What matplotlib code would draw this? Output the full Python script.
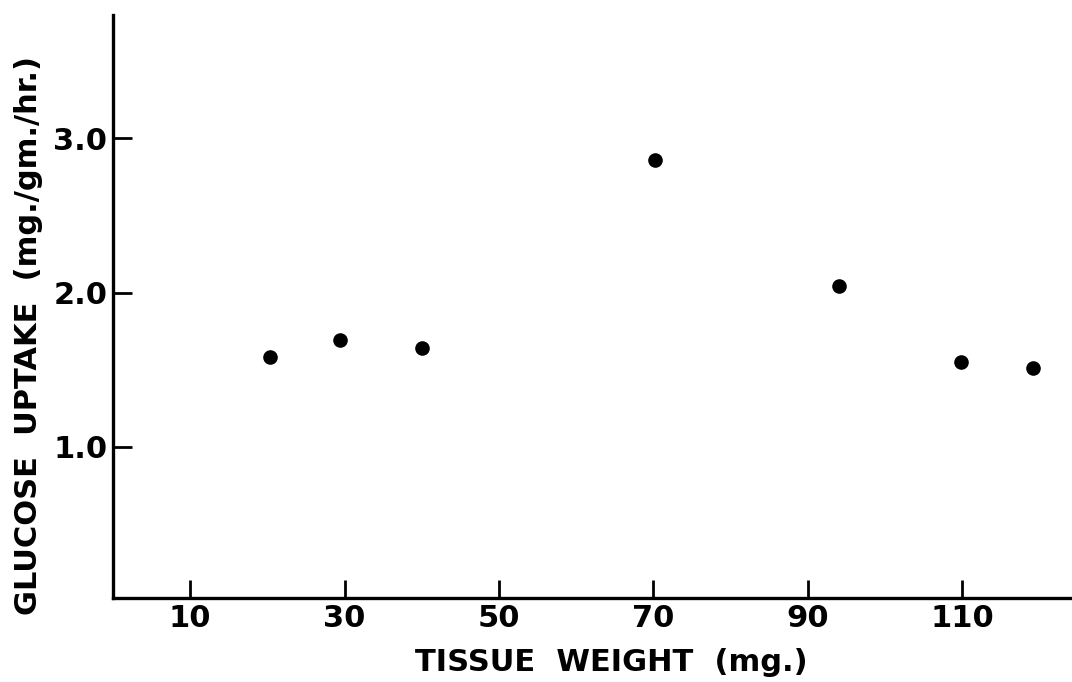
import matplotlib
matplotlib.use("Agg")
import matplotlib.pyplot as plt

# values
tissue_weight = [20.3, 29.4, 40.0, 70.2, 94.0, 109.8, 119.2]
glucose_uptake = [1.58, 1.69, 1.64, 2.86, 2.04, 1.55, 1.51]
x_ticks = [10, 30, 50, 70, 90, 110]
x_tick_labels = ["10", "30", "50", "70", "90", "110"]
y_ticks = [1.0, 2.0, 3.0]
y_tick_labels = ["1.0", "2.0", "3.0"]

plt.rcParams['font.family'] = ['DejaVu Sans']
plt.rcParams['font.weight'] = 'bold'

fig = plt.figure(figsize=(10.72, 6.82), dpi=100)
ax = fig.add_axes([113 / 1072, 1 - 598 / 682, 1 - 113 / 1072, (598 - 15) / 682])

ax.scatter(tissue_weight, glucose_uptake, s=90, color="black", zorder=3, clip_on=False)

ax.set_xlim(0, 124.2)
ax.set_ylim(0.02, 3.8)

for side in ["top", "right"]:
    ax.spines[side].set_visible(False)
for side in ["left", "bottom"]:
    ax.spines[side].set_linewidth(2.4)

ax.set_xticks(x_ticks)
ax.set_xticklabels(x_tick_labels, fontsize=22, fontweight="bold")
ax.set_yticks(y_ticks)
ax.set_yticklabels(y_tick_labels, fontsize=22, fontweight="bold")
ax.tick_params(axis="x", direction="in", length=13, width=2, pad=4)
ax.tick_params(axis="y", direction="in", length=14, width=2, pad=4)

ax.set_xlabel("TISSUE  WEIGHT  (mg.)", fontsize=22, fontweight="bold")
ax.xaxis.set_label_coords(0.52, -0.085)
ax.set_ylabel("GLUCOSE  UPTAKE  (mg./gm./hr.)", fontsize=22, fontweight="bold")
ax.yaxis.set_label_coords(-0.073, 0.45)

fig.savefig("out.png", dpi=100)
